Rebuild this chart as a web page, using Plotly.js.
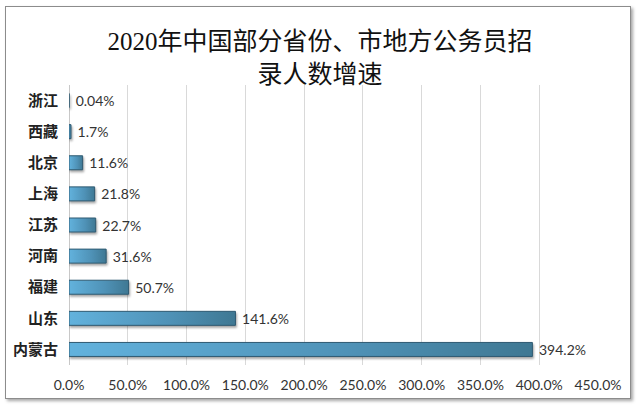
<!DOCTYPE html>
<html><head><meta charset="utf-8">
<script src="https://cdn.plot.ly/plotly-3.0.1.min.js"></script>
<style>
html,body{margin:0;padding:0;background:#fff;}
#wrap{position:relative;width:640px;height:409px;}
#chart{width:640px;height:409px;}
#frame{position:absolute;left:5px;top:6px;width:624px;height:391px;border:1px solid #8c8c8c;box-shadow:2px 2px 3px rgba(0,0,0,0.35);pointer-events:none;}
</style></head>
<body>
<div id="wrap"><div id="chart"></div><div id="frame"></div></div>
<script>
const categories = ['内蒙古','山东','福建','河南','江苏','上海','北京','西藏','浙江'];
const growth = [394.2,141.6,50.7,31.6,22.7,21.8,11.6,1.7,0.04];
const labels = ['394.2%','141.6%','50.7%','31.6%','22.7%','21.8%','11.6%','1.7%','0.04%'];
const titleText = '2020年中国部分省份、市地方公务员招<br>录人数增速';

const trace = {
  type:'bar', orientation:'h', y:categories, x:growth,
  text:labels, texttemplate:'\u00a0%{text}', textposition:'outside', cliponaxis:false,
  constraintext:'none',
  textfont:{family:'Lato, Liberation Sans, sans-serif', size:14, color:'#333'},
  marker:{color:'#4f96be', line:{color:'#2e5a72', width:1}},
  width:0.45, hoverinfo:'none'
};
const layout = {
  width:640, height:409,
  margin:{l:69, r:42, t:85, b:44},
  paper_bgcolor:'rgba(0,0,0,0)', plot_bgcolor:'rgba(0,0,0,0)',
  showlegend:false,
  title:{text:titleText, x:0.5, xanchor:'center', y:0.877, yanchor:'middle',
    font:{family:'Liberation Serif, Noto Sans CJK SC, serif', size:25, color:'#111'}},
  xaxis:{range:[0,450], dtick:50, tick0:0, tickformat:'.1f', ticksuffix:'%',
    showgrid:true, gridcolor:'#d9d9d9', gridwidth:1, zeroline:true, zerolinecolor:'#c8c8c8',
    showline:false, ticks:'', ticklabelstandoff:10,
    tickfont:{family:'Lato, Liberation Sans, sans-serif', size:14, color:'#333'}},
  yaxis:{type:'category', showgrid:false, zeroline:false, showline:false, ticks:'',
    ticklabelstandoff:10,
    tickfont:{family:'Noto Sans CJK SC, sans-serif', size:15, color:'#222', weight:'bold'}}
};
Plotly.newPlot('chart',[trace],layout,{displayModeBar:false, staticPlot:true}).then(function(gd){
  const svg = gd.querySelector('svg.main-svg');
  const ns='http://www.w3.org/2000/svg';
  let defs = svg.querySelector('defs');
  const lg = document.createElementNS(ns,'linearGradient');
  lg.setAttribute('id','barGrad'); lg.setAttribute('x1','0'); lg.setAttribute('y1','0'); lg.setAttribute('x2','1'); lg.setAttribute('y2','0');
  [['0','#62b2dd'],['0.6','#4f92b7'],['1','#3f7893']].forEach(function(s){
    const st=document.createElementNS(ns,'stop'); st.setAttribute('offset',s[0]); st.setAttribute('stop-color',s[1]); lg.appendChild(st);
  });
  defs.appendChild(lg);
  gd.querySelectorAll('.trace.bars .point path').forEach(function(p){
    p.style.fill='url(#barGrad)';
    p.style.filter='drop-shadow(1px 2px 1px rgba(0,0,0,0.35))';
  });
});
</script>
</body></html>
